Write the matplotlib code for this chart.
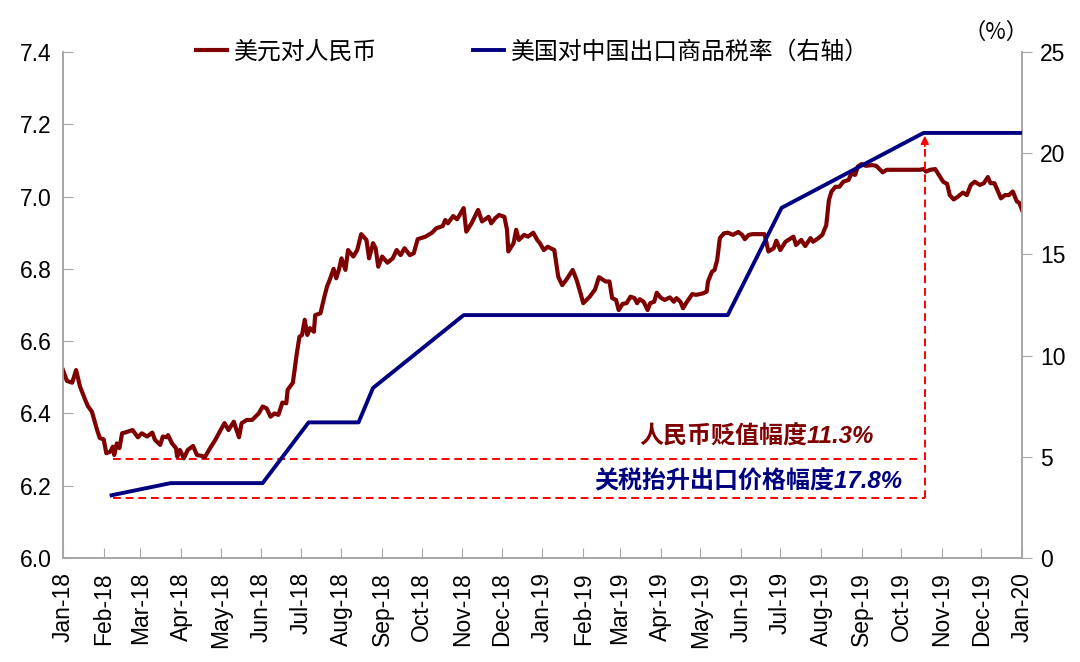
import matplotlib
matplotlib.use("Agg")
import matplotlib.pyplot as plt
import matplotlib.dates as mdates
import pandas as pd

plt.rcParams['font.family'] = ['Liberation Sans', 'Noto Sans CJK SC']

# USD/CNY (days since 2018-01-01)
fx_days = [0, 3, 7, 10, 13, 17, 19, 22, 26, 28, 31, 33, 36, 38, 39, 41, 43, 45, 48, 53,
           57, 60, 64, 68, 70, 74, 76, 79, 80, 83, 86, 87, 89, 92, 95, 99, 102, 106, 108, 112,
           116, 120, 123, 126, 130, 134, 136, 140, 144, 149, 152, 155, 158, 161, 164, 167, 170, 171, 175, 178,
           180, 182, 184, 186, 188, 191, 192, 196, 199, 201, 203, 206,
           208, 210, 212, 215, 217, 221, 224, 227, 231, 233, 236, 238, 240, 243, 247, 251, 254, 257, 260, 264,
           267, 270, 276, 281, 284, 289, 291, 293, 297, 300, 305, 307, 311, 316, 319, 324, 326, 329, 332, 336,
           338, 339, 343, 345, 347, 351, 354, 358, 361,
           363, 366, 369, 374, 377, 380, 383, 388, 391, 394, 396, 401, 405, 408, 413, 416, 418, 421, 423, 426,
           429, 432, 435, 437, 439, 442, 445, 447, 450, 452, 455, 458, 462, 465, 467, 470, 472, 475, 479, 482,
           487, 490, 491, 494, 496, 498, 500, 503, 506, 510, 514, 517, 519, 522, 525, 531, 534, 537, 541, 543,
           546, 550, 553, 556, 558,
           562, 565, 569, 571, 575, 578, 581, 583, 585, 588, 591, 594, 598, 600, 603, 605, 608, 611, 616, 619,
           622, 624, 627, 632, 637, 642, 647, 652, 655, 657, 660, 664, 666, 670, 673, 675, 678, 681, 685, 688,
           691, 694, 698, 701, 704, 706, 709, 714, 717, 720, 723, 726, 728, 730]
fx_rate = [6.52, 6.49, 6.485, 6.52, 6.474, 6.437, 6.42, 6.405, 6.354, 6.332, 6.328, 6.29, 6.294, 6.308, 6.285, 6.317, 6.304, 6.345, 6.348, 6.354,
           6.334, 6.345, 6.336, 6.347, 6.327, 6.313, 6.336, 6.334, 6.34, 6.317, 6.304, 6.28, 6.299, 6.276, 6.299, 6.31, 6.285, 6.282, 6.279, 6.304,
           6.327, 6.354, 6.373, 6.354, 6.377, 6.334, 6.373, 6.382, 6.382, 6.40, 6.419, 6.414, 6.391, 6.40, 6.396, 6.43, 6.428, 6.465, 6.485, 6.566,
           6.612, 6.617, 6.659, 6.617, 6.636, 6.626, 6.672, 6.677, 6.723, 6.751, 6.769, 6.80,
           6.774, 6.797, 6.829, 6.797, 6.852, 6.834, 6.852, 6.896, 6.88, 6.829, 6.871, 6.857, 6.806, 6.834, 6.817, 6.829, 6.852, 6.838, 6.857, 6.838,
           6.843, 6.882, 6.889, 6.90, 6.912, 6.918, 6.935, 6.926, 6.946, 6.937, 6.968, 6.903, 6.926, 6.963, 6.931, 6.944, 6.926, 6.94, 6.949, 6.944,
           6.908, 6.848, 6.871, 6.908, 6.88, 6.894, 6.889, 6.90, 6.88,
           6.871, 6.852, 6.861, 6.852, 6.778, 6.755, 6.769, 6.797, 6.769, 6.732, 6.705, 6.723, 6.743, 6.777, 6.765, 6.765, 6.719, 6.714, 6.686, 6.703,
           6.705, 6.723, 6.719, 6.705, 6.716, 6.709, 6.686, 6.705, 6.709, 6.734, 6.72, 6.714, 6.721, 6.709, 6.719, 6.709, 6.691, 6.709, 6.73, 6.728,
           6.732, 6.737, 6.765, 6.792, 6.797, 6.825, 6.885, 6.898, 6.90, 6.894, 6.902, 6.894, 6.882, 6.894, 6.896, 6.896, 6.896, 6.848, 6.857, 6.878,
           6.852, 6.875, 6.882, 6.889, 6.866,
           6.88, 6.863, 6.885, 6.875, 6.885, 6.894, 6.921, 6.99, 7.014, 7.027, 7.027, 7.041, 7.046, 7.063, 7.06, 7.083, 7.09, 7.085, 7.087, 7.085,
           7.074, 7.067, 7.074, 7.074, 7.074, 7.074, 7.074, 7.074, 7.076, 7.069, 7.074, 7.076, 7.064, 7.041, 7.035, 7.004, 6.992, 6.999, 7.011, 7.004,
           7.032, 7.041, 7.032, 7.037, 7.054, 7.037, 7.037, 6.995, 7.004, 7.004, 7.014, 6.987, 6.982, 6.963]

# US tariff rate on Chinese imports (%)
tariff_days = [37, 82, 152, 187, 225, 236, 305, 506, 547, 655, 730]
tariff_rate = [3.1, 3.7, 3.7, 6.7, 6.7, 8.4, 12.0, 12.0, 17.3, 21.0, 21.0]

# annotation guides
fx_low = 6.275
tariff_low = 2.97
guide_start = 38
guide_end = 656

start = pd.Timestamp('2018-01-01')
fx_dates = start + pd.to_timedelta(fx_days, unit='D')
tariff_dates = start + pd.to_timedelta(tariff_days, unit='D')
g0 = start + pd.Timedelta(days=guide_start)
g1 = start + pd.Timedelta(days=guide_end)

red = '#7F0000'
navy = '#000080'
grey = '#A6A6A6'

fig = plt.figure(figsize=(10.8, 6.62), dpi=100)
ax = fig.add_axes([0.0583, 0.1571, 0.888, 0.7644])
ax2 = ax.twinx()

l1, = ax.plot(fx_dates, fx_rate, color=red, lw=3.0, label='美元对人民币', zorder=3)
ax.plot([g0, g1 - pd.Timedelta(days=3)], [fx_low, fx_low], color='red', lw=1.4, ls=(0, (4, 2.5)))

ax2.plot([g0, g1], [tariff_low, tariff_low], color='red', lw=1.4, ls=(0, (4, 2.5)), zorder=1)
ax2.plot([g1, g1], [tariff_low, 20.3], color='red', lw=1.4, ls=(0, (4, 2.5)), zorder=1)
ax2.annotate('', xy=(g1, 21.0), xytext=(g1, 20.2),
             arrowprops=dict(arrowstyle='-|>', color='red', lw=1.2, mutation_scale=12))
l2, = ax2.plot(tariff_dates, tariff_rate, color=navy, lw=2.8, label='美国对中国出口商品税率（右轴）', zorder=3)

ax.set_xlim(start, pd.Timestamp('2020-01-01'))
ax.set_ylim(6.0, 7.4)
ax.set_yticks([6.0, 6.2, 6.4, 6.6, 6.8, 7.0, 7.2, 7.4])
ax.yaxis.set_major_formatter(matplotlib.ticker.FormatStrFormatter('%.1f'))
ax2.set_ylim(0, 25)
ax2.set_yticks([0, 5, 10, 15, 20, 25])

ax.xaxis.set_major_locator(mdates.MonthLocator())
ax.xaxis.set_major_formatter(mdates.DateFormatter('%b-%y'))
ax.tick_params(axis='x', direction='in', length=7, color=grey, labelsize=16.5, rotation=90, pad=10)
ax.tick_params(axis='y', direction='in', length=7, color=grey, labelsize=16.5, pad=8)
ax2.tick_params(axis='y', direction='out', length=7, color=grey, labelsize=16.5, pad=6)

for a in (ax, ax2):
    a.spines['top'].set_visible(False)
    for s in ('left', 'right', 'bottom'):
        a.spines[s].set_color(grey)
        a.spines[s].set_linewidth(1.2)

ax.text(start + pd.Timedelta(days=617), 6.338, '人民币贬值幅度11.3%', color=red, fontsize=17.3,
        fontweight='bold', style='italic', ha='right', va='center')
ax.text(start + pd.Timedelta(days=639), 6.213, '关税抬升出口价格幅度17.8%', color=navy, fontsize=17.3,
        fontweight='bold', style='italic', ha='right', va='center')

fig.text(0.922, 0.951, '（%）', fontsize=16, ha='center', va='center',
         family=['Noto Sans CJK SC', 'Liberation Sans'])

ax.legend(handles=[l1, l2], loc='center', bbox_to_anchor=(0.49, 1.0), ncol=2, frameon=False,
          fontsize=17.2, handlelength=1.3, handletextpad=0.3, columnspacing=4.0)

fig.savefig('out.png', dpi=100)
